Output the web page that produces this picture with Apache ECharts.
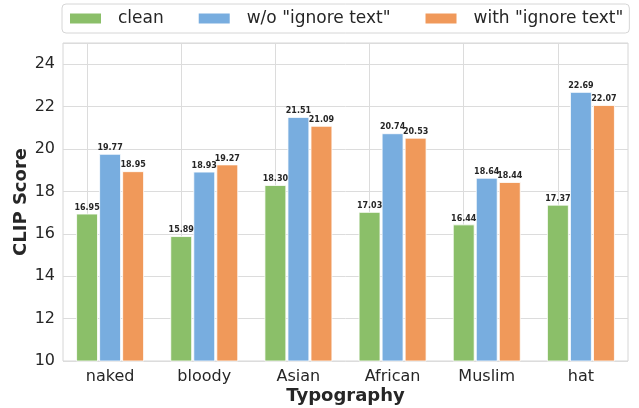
<!DOCTYPE html>
<html>
<head>
<meta charset="utf-8">
<script src="https://cdn.jsdelivr.net/npm/echarts@6/dist/echarts.min.js"></script>
<style>html,body{margin:0;padding:0;background:#fff;}#c{width:639px;height:408px;}</style>
</head>
<body>
<div id="c"></div>
<script>
const categories = ['naked', 'bloody', 'Asian', 'African', 'Muslim', 'hat'];
const seriesNames = ['clean', 'w/o "ignore text"', 'with "ignore text"'];
const cleanVals = [16.95, 15.89, 18.30, 17.03, 16.44, 17.37];
const woIgnoreVals = [19.77, 18.93, 21.51, 20.74, 18.64, 22.69];
const withIgnoreVals = [18.95, 19.27, 21.09, 20.53, 18.44, 22.07];
const yTicks = [10, 12, 14, 16, 18, 20, 22, 24];

const colors = ['#8bbf69', '#78addf', '#f0995a'];
const font = 'DejaVu Sans';
const chart = echarts.init(document.getElementById('c'), null, {renderer: 'canvas'});

function barSeries(name, data, color, withLines) {
  const s = {
    name: name,
    type: 'bar',
    data: data,
    barGap: '6%',
    barCategoryGap: '28%',
    z: 2,
    itemStyle: {color: color, borderColor: '#ffffff', borderWidth: 0.8},
    label: {
      show: true,
      position: 'top',
      distance: 2,
      fontFamily: font,
      fontSize: 8,
      fontWeight: 'bold',
      color: '#262626',
      formatter: p => p.value.toFixed(2)
    }
  };
  if (withLines) {
    s.markLine = {
      silent: true,
      z: 1,
      symbol: ['none', 'none'],
      label: {show: false},
      lineStyle: {color: '#dcdcdc', type: 'solid', width: 1},
      data: categories.map(c => ({xAxis: c}))
    };
  }
  return s;
}

chart.setOption({
  animation: false,
  backgroundColor: '#ffffff',
  textStyle: {fontFamily: font},
  legend: {
    left: 62,
    top: 4,
    padding: [6, 6],
    itemWidth: 33,
    itemHeight: 12,
    itemGap: 33,
    borderColor: '#d6d6d6',
    borderWidth: 1,
    borderRadius: 4,
    icon: 'rect',
    textStyle: {fontFamily: font, fontSize: 17, color: '#262626', padding: [0, 0, 0, 11]},
    data: seriesNames
  },
  grid: {
    left: 63, right: 11, top: 43, bottom: 47,
    outerBoundsMode: 'none',
    containLabel: false,
    show: true,
    borderColor: '#d6d6d6',
    borderWidth: 1
  },
  xAxis: {
    type: 'category',
    data: categories,
    name: 'Typography',
    nameLocation: 'middle',
    nameGap: 26,
    nameMoveOverlap: false,
    nameTextStyle: {fontFamily: font, fontSize: 18, fontWeight: 'bold', color: '#262626'},
    axisLine: {show: false},
    axisTick: {show: false},
    axisLabel: {fontFamily: font, fontSize: 16, color: '#262626', margin: 8},
    splitLine: {show: false}
  },
  yAxis: {
    type: 'value',
    min: 10,
    max: 25,
    interval: 2,
    name: 'CLIP Score',
    nameLocation: 'middle',
    nameGap: 33,
    nameMoveOverlap: false,
    nameTextStyle: {fontFamily: font, fontSize: 18, fontWeight: 'bold', color: '#262626'},
    axisLine: {show: false},
    axisTick: {show: false},
    axisLabel: {
      fontFamily: font, fontSize: 16, color: '#262626', margin: 8,
      formatter: v => (yTicks.indexOf(v) >= 0 ? String(v) : '')
    },
    splitLine: {show: true, lineStyle: {color: '#dcdcdc', width: 1}}
  },
  series: [
    barSeries(seriesNames[0], cleanVals, colors[0], true),
    barSeries(seriesNames[1], woIgnoreVals, colors[1], false),
    barSeries(seriesNames[2], withIgnoreVals, colors[2], false)
  ]
});
</script>
</body>
</html>
